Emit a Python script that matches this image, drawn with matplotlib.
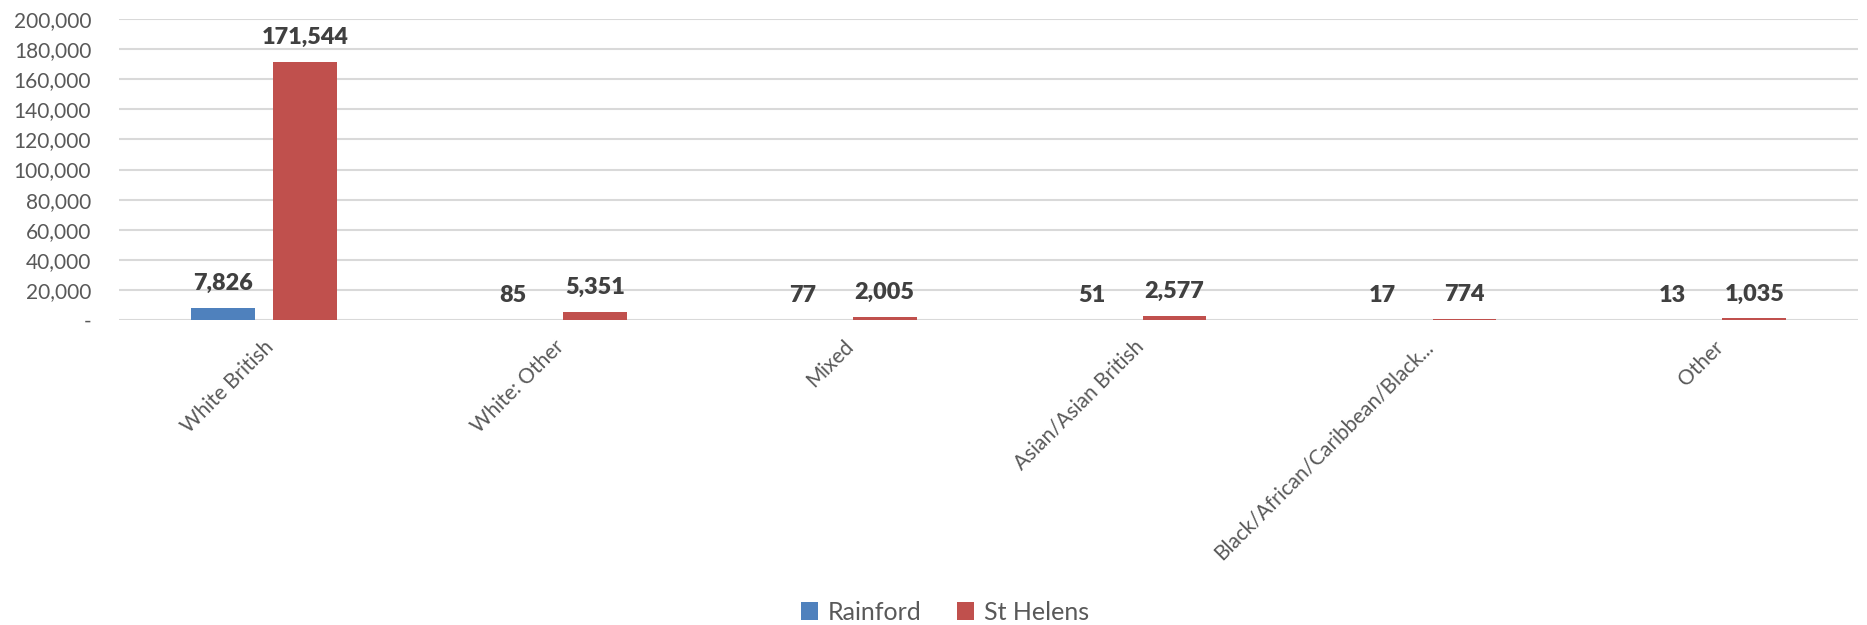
import matplotlib
matplotlib.use("Agg")
import matplotlib.pyplot as plt
import numpy as np
from matplotlib.ticker import FuncFormatter

categories = [
    "White British",
    "White: Other",
    "Mixed",
    "Asian/Asian British",
    "Black/African/Caribbean/Black...",
    "Other",
]
series_names = ["Rainford", "St Helens"]
rainford = [7826, 85, 77, 51, 17, 13]
st_helens = [171544, 5351, 2005, 2577, 774, 1035]
y_ticks = list(range(0, 200001, 20000))

BLUE = "#4F81BD"
RED = "#C0504D"
GRID = "#D9D9D9"
TICK_TXT = "#595959"
LABEL_TXT = "#404040"

plt.rcParams["font.family"] = ["Lato", "DejaVu Sans"]

fig = plt.figure(figsize=(18.67, 6.25), dpi=100)
ax = fig.add_axes([119 / 1867, 1 - 320 / 625, (1858 - 119) / 1867, (320 - 19) / 625])

x = np.arange(len(categories))
width = 0.22
offset = 0.142
bars_r = ax.bar(x - offset, rainford, width, color=BLUE, label=series_names[0], zorder=3)
bars_s = ax.bar(x + offset, st_helens, width, color=RED, label=series_names[1], zorder=3)

# value labels sit above each bar, bold like the source
for bars in (bars_r, bars_s):
    ax.bar_label(bars, labels=[f"{v:,}" for v in bars.datavalues], padding=10,
                 fontsize=16.8, fontweight="heavy", color=LABEL_TXT)

ax.set_xlim(-0.5, len(categories) - 0.5)
ax.set_ylim(0, 200000)
ax.set_yticks(y_ticks)
ax.yaxis.set_major_formatter(FuncFormatter(lambda v, _: "-" if v == 0 else f"{int(v):,}"))
ax.grid(axis="y", color=GRID, linewidth=1.5, zorder=0)
ax.set_axisbelow(True)
for s in ax.spines.values():
    s.set_visible(False)
ax.tick_params(axis="y", length=0, labelsize=15, labelcolor=TICK_TXT, pad=20)
ax.tick_params(axis="x", length=0, labelsize=15, labelcolor=TICK_TXT, pad=12)
ax.set_xticks(x)
ax.set_xticklabels(categories, rotation=45, ha="right", rotation_mode="anchor")

fig.legend(handles=[bars_r, bars_s], labels=series_names, loc="center",
           bbox_to_anchor=(945 / 1867, 1 - 612 / 625), ncol=2, frameon=False,
           fontsize=18, labelcolor=TICK_TXT, handlelength=0.7, handleheight=0.7,
           handletextpad=0.4, columnspacing=1.4)

fig.savefig("out.png", dpi=100)
